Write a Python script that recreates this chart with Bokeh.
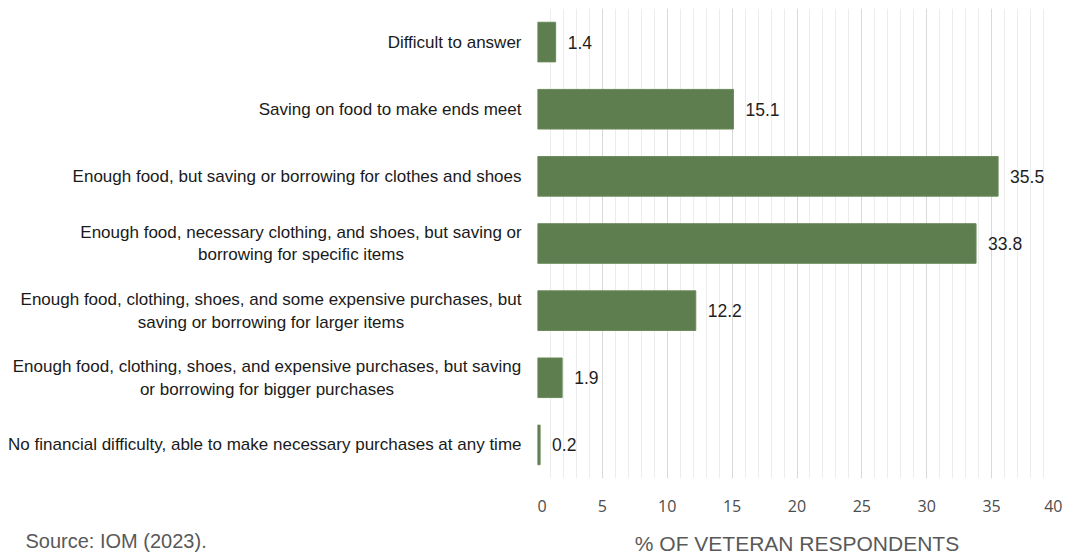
from bokeh.plotting import figure
from bokeh.layouts import row, column
from bokeh.models import Range1d, SingleIntervalTicker
from bokeh.core.properties import value
from bokeh.embed import file_html
from bokeh.resources import INLINE

categories = [
    "Difficult to answer",
    "Saving on food to make ends meet",
    "Enough food, but saving or borrowing for clothes and shoes",
    "Enough food, necessary clothing, and shoes, but saving or\nborrowing for specific items",
    "Enough food, clothing, shoes, and some expensive purchases, but\nsaving or borrowing for larger items",
    "Enough food, clothing, shoes, and expensive purchases, but saving\nor borrowing for bigger purchases",
    "No financial difficulty, able to make necessary purchases at any time",
]
values = [1.4, 15.1, 35.5, 33.8, 12.2, 1.9, 0.2]
value_labels = ["1.4", "15.1", "35.5", "33.8", "12.2", "1.9", "0.2"]
x_title = "% OF VETERAN RESPONDENTS"
source_text = "Source: IOM (2023)."

n = len(values)
positions = list(range(n))

# layout sizes (pixels)
LABEL_W = 537
MAIN_W = 525
TOP = 8
FRAME_H = 470
AXIS_H = 40
BOTTOM_H = 38
FONT = "Liberation Sans"

y_rng = Range1d(n - 0.5, -0.5)

# ---- main bar figure ----
p = figure(width=MAIN_W, height=TOP + FRAME_H + AXIS_H, output_backend="svg", toolbar_location=None,
           x_range=Range1d(0, 40), y_range=y_rng,
           min_border_left=0, min_border_right=MAIN_W - 519, min_border_top=TOP, min_border_bottom=AXIS_H)
p.outline_line_color = None
p.hbar(y=positions, right=values, left=0, height=0.59, fill_color="#5f7e4f", line_color="#6a8a5a", line_width=1)
p.text(x=values, y=positions, text=value_labels, x_offset=12, text_baseline="middle", text_align="left",
       text_font=value(FONT), text_font_size="17.5px", text_color="#1f1f1f")
p.xaxis.ticker = SingleIntervalTicker(interval=5, num_minor_ticks=5)
p.xaxis.axis_line_color = None
p.xaxis.major_tick_line_color = None
p.xaxis.minor_tick_line_color = None
p.xaxis.major_label_standoff = 15
p.xaxis.major_label_text_font = "Open Sans"
p.xaxis.major_label_text_font_size = "16px"
p.xaxis.major_label_text_color = "#4d4d4d"
p.yaxis.visible = False
p.xgrid.grid_line_color = "#d9d9d9"
p.xgrid.minor_grid_line_color = "#ececec"
p.ygrid.grid_line_color = None

# ---- category label figure ----
lf = figure(width=LABEL_W, height=TOP + FRAME_H + AXIS_H, output_backend="svg", toolbar_location=None,
            x_range=Range1d(0, LABEL_W), y_range=y_rng,
            min_border_left=0, min_border_right=0, min_border_top=TOP, min_border_bottom=AXIS_H)
lf.axis.visible = False
lf.grid.visible = False
lf.outline_line_color = None

single_idx = [i for i in positions if "\n" not in categories[i]]
multi_idx = [i for i in positions if "\n" in categories[i]]
multi_centers = {3: 300.5, 4: 270.5, 5: 266.5}

lf.text(x=[LABEL_W - 16] * len(single_idx), y=single_idx, text=[categories[i] for i in single_idx],
        text_align="right", text_baseline="middle", text_font=value(FONT), text_font_size="17px",
        text_color="#1a1a1a")
lf.text(x=[multi_centers[i] for i in multi_idx], y=multi_idx, text=[categories[i] for i in multi_idx],
        text_align="center", text_baseline="middle", text_font=value(FONT), text_font_size="17px",
        text_color="#1a1a1a", text_line_height=1.2)

# ---- bottom strip with source and axis title ----
bf = figure(width=LABEL_W + MAIN_W, height=BOTTOM_H, output_backend="svg", toolbar_location=None,
            x_range=Range1d(0, LABEL_W + MAIN_W), y_range=Range1d(BOTTOM_H, 0),
            min_border_left=0, min_border_right=0, min_border_top=0, min_border_bottom=0)
bf.axis.visible = False
bf.grid.visible = False
bf.outline_line_color = None
bf.text(x=[25], y=[22], text=[source_text], text_align="left", text_baseline="middle",
        text_font=value(FONT), text_font_size="20px", text_color="#595959")
bf.text(x=[LABEL_W + 519 / 2], y=[25], text=[x_title], text_align="center", text_baseline="middle",
        text_font=value(FONT), text_font_size="21px", text_color="#595959")

layout = column(row(lf, p, spacing=0), bf, spacing=0)
open("out.html", "w").write(file_html(layout, INLINE))
